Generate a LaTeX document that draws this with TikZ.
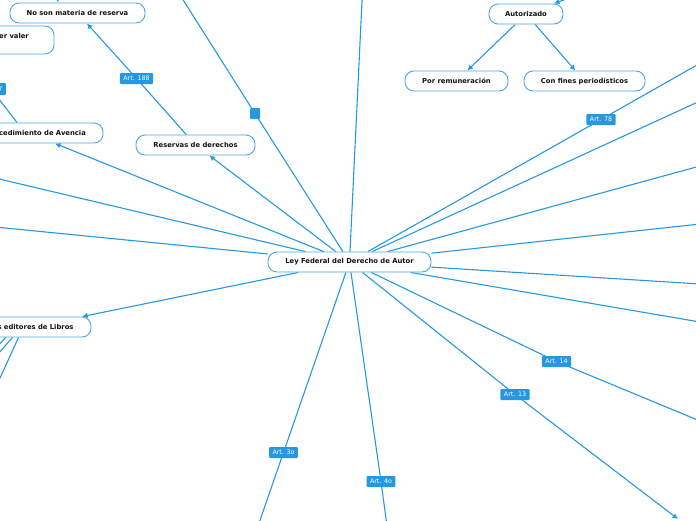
\documentclass[tikz,border=0pt]{standalone}
\usepackage{fontspec}
\setmainfont{DejaVu Sans}
\usetikzlibrary{arrows.meta,backgrounds}
\definecolor{lb}{RGB}{38,152,226}
\definecolor{lbb}{RGB}{70,168,232}
\definecolor{ink}{RGB}{20,20,20}
\tikzset{
  topic/.style={draw=lbb, line width=0.9pt, fill=white, rounded corners=9pt,
    minimum height=20pt, inner sep=0pt,
    font=\fontsize{6.8}{8}\selectfont\bfseries, text=ink},
  topictext/.style={inner sep=0pt, font=\fontsize{6.8}{8}\selectfont\bfseries, text=ink},
  artlbl/.style={fill=lb, text=white, font=\fontsize{6.3}{7}\selectfont,
    minimum height=11pt, inner xsep=3.5pt, inner ysep=0pt, rounded corners=1pt},
  con/.style={draw=lb, line width=1.1pt},
  arr/.style={con, -{Latex[length=5.5pt,width=5.5pt]}},
}
\begin{document}
\begin{tikzpicture}[x=1pt,y=-1pt]
\useasboundingbox (0,0) rectangle (696,520);
\clip (0,0) rectangle (696,520);

% topics
\node[topic, minimum width=163pt] (c) at (349.5,262) {Ley Federal del Derecho de Autor};
\node[topic, minimum width=135pt] (nosn) at (77.5,13) {No son materia de reserva};
\node[topic, minimum width=110pt, minimum height=28pt] (valer) at (-1,40) {};
\node[topictext, anchor=west] (valertxt) at (-1,36) {er valer};
\node[topic, minimum width=134pt] (proc) at (36,133) {Procedimiento de Avencia};
\node[topic, minimum width=119pt] (res) at (195.5,145) {Reservas de derechos};
\node[topic, minimum width=74pt] (aut) at (526,14) {Autorizado};
\node[topic, minimum width=103pt] (por) at (456.5,81) {Por remuneración};
\node[topic, minimum width=121pt] (con) at (584.5,81) {Con fines periodísticos};
\node[topic, minimum width=120pt] (edit) at (31,327) {Los editores de Libros};

% connector labels
\node[artlbl] (a188) at (136.5,78.5) {Art. 188};
\node[artlbl, minimum width=10pt, inner xsep=0pt] (sq) at (255,113.5) {};
\node[artlbl, anchor=east, minimum height=12pt] (a7) at (6,89) {Art. 17};
\node[artlbl] (a78) at (601,119.5) {Art. 78};
\node[artlbl] (a14) at (556.5,361.5) {Art. 14};
\node[artlbl] (a13) at (515,394.5) {Art. 13};
\node[artlbl] (a3) at (283.5,452.5) {Art. 3o};
\node[artlbl] (a4) at (381,481.5) {Art. 4o};

% free ends
\coordinate (t1) at (180,-5);
\coordinate (t2) at (362.3,-5);
\coordinate (t3) at (56,-15);
\coordinate (t4) at (590,-10);
\coordinate (l1) at (-5,178);
\coordinate (l2) at (-5,227);
\coordinate (r1) at (700,63.3);
\coordinate (r2) at (700,101);
\coordinate (r3) at (700,166);
\coordinate (r4) at (700,224);
\coordinate (r5) at (700,284);
\coordinate (r6) at (700,322);
\coordinate (r7) at (700,421);
\coordinate (t13) at (678,519);
\coordinate (b1) at (258,526);
\coordinate (b2) at (387,526);
\coordinate (e1) at (-10,355);
\coordinate (e2) at (-10,363);
\coordinate (e3) at (-10,400);

\begin{scope}[on background layer]
\draw[con] (c) -- (sq.center) -- (t1);
\draw[con] (c) -- (t2);
\draw[arr] (c) -- (res);
\draw[arr] (res) -- (a188.center) -- (nosn);
\draw[arr] (c) -- ([xshift=19pt]proc.south);
\draw[con] ([xshift=-19pt]proc.north) -- (a7.center);
\draw[con] (c) -- (l1);
\draw[con] (c) -- (l2);
\draw[arr] (c) -- (edit);
\draw[con] ([xshift=-25.5pt]edit.south) -- (e1);
\draw[con] ([xshift=-18.5pt]edit.south) -- (e2);
\draw[con] ([xshift=-12.5pt]edit.south) -- (e3);
\draw[arr] (t3) -- ([xshift=-19.5pt]nosn.north);
\draw[arr] (t4) -- ([xshift=28pt]aut.north);
\draw[arr] (aut) -- (por);
\draw[arr] (aut) -- (con);
\draw[con] (c) -- (a78.center) -- (r1);
\draw[con] (c) -- (r2);
\draw[con] (c) -- (r3);
\draw[con] (c) -- (r4);
\draw[con] (c) -- (r5);
\draw[con] (c) -- (r6);
\draw[con] (c) -- (a14.center) -- (r7);
\draw[arr] (c) -- (a13.center) -- (t13);
\draw[con] (c) -- (a3.center) -- (b1);
\draw[con] (c) -- (a4.center) -- (b2);
\end{scope}
\end{tikzpicture}
\end{document}
